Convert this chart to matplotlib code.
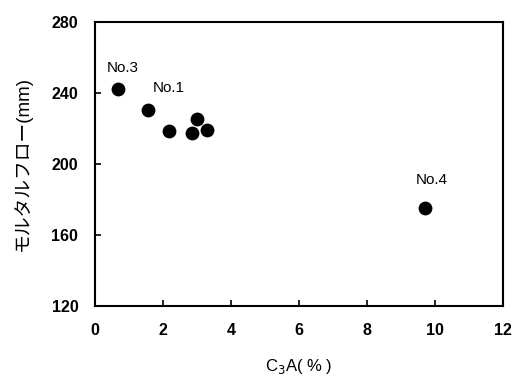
import matplotlib
matplotlib.use('Agg')
import matplotlib.pyplot as plt

plt.rcParams['font.family'] = ['Liberation Sans', 'Noto Sans CJK JP', 'DejaVu Sans']

c3a = [0.69, 1.57, 2.18, 2.86, 2.99, 3.29, 9.70]
flow = [242.1, 230.4, 218.6, 217.6, 225.2, 219.2, 175.2]
labels = ['No.3', 'No.1', '', '', '', '', 'No.4']
label_offsets = [(3, 10), (15, 11), None, None, None, None, (5, 15)]

fig = plt.figure(figsize=(5.17, 3.78), dpi=100)
ax = fig.add_axes([0.1838, 0.1905, 0.9729 - 0.1838, 0.9418 - 0.1905])

ax.scatter(c3a, flow, s=80, color='black', zorder=3)
for x, y, lab, off in zip(c3a, flow, labels, label_offsets):
    if lab:
        ax.annotate(lab, (x, y), xytext=off, textcoords='offset points',
                    ha='center', va='bottom', fontsize=11)

ax.set_xlim(0, 12)
ax.set_ylim(120, 280)
ax.set_xticks(range(0, 13, 2))
ax.set_yticks(range(120, 281, 40))
ax.tick_params(direction='in', length=4, width=1.2, labelsize=11.5, pad=12)
for t in ax.get_xticklabels() + ax.get_yticklabels():
    t.set_fontweight('bold')
for s in ax.spines.values():
    s.set_linewidth(1.5)

ax.set_xlabel('C$_3$A( % )', fontsize=12, labelpad=14)
ax.set_ylabel('モルタルフロー(mm)', fontsize=13.5, labelpad=14)

fig.savefig('out.png', dpi=100)
